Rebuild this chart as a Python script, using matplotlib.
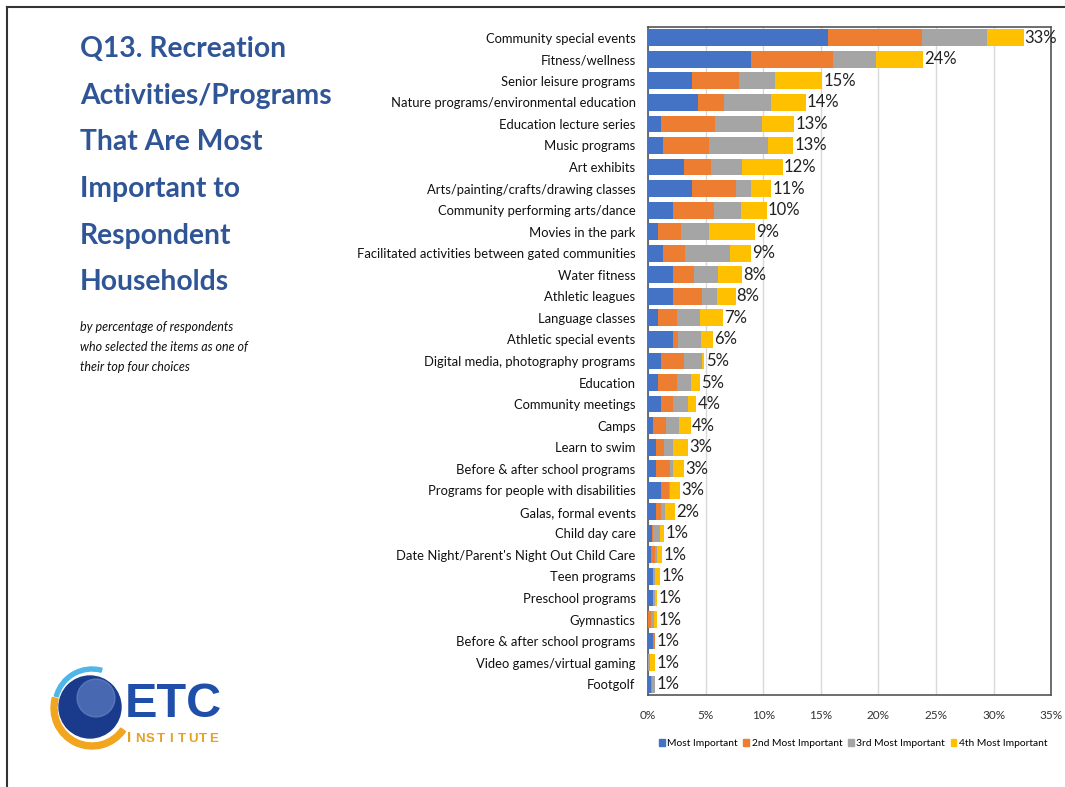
import matplotlib
matplotlib.use('Agg')
import matplotlib.pyplot as plt
import numpy as np
from matplotlib.patches import Circle, Wedge, Rectangle
from matplotlib.lines import Line2D

categories = [
    'Community special events', 'Fitness/wellness', 'Senior leisure programs',
    'Nature programs/environmental education', 'Education lecture series',
    'Music programs', 'Art exhibits', 'Arts/painting/crafts/drawing classes',
    'Community performing arts/dance', 'Movies in the park',
    'Facilitated activities between gated communities', 'Water fitness',
    'Athletic leagues', 'Language classes', 'Athletic special events',
    'Digital media, photography programs', 'Education', 'Community meetings',
    'Camps', 'Learn to swim', 'Before & after school programs',
    'Programs for people with disabilities', 'Galas, formal events',
    'Child day care', "Date Night/Parent's Night Out Child Care",
    'Teen programs', 'Preschool programs', 'Gymnastics',
    'Before & after school programs', 'Video games/virtual gaming', 'Footgolf',
]

most = [15.6, 8.9, 3.8, 4.3, 1.1, 1.3, 3.1, 3.8, 2.2, 0.9, 1.3, 2.2, 2.2, 0.9, 2.2,
        1.1, 0.9, 1.1, 0.4, 0.7, 0.7, 1.1, 0.7, 0.3, 0.26, 0.46, 0.46, 0.0, 0.46, 0.0, 0.26]
second = [8.2, 7.2, 4.1, 2.3, 4.7, 4.0, 2.4, 3.8, 3.5, 2.0, 1.9, 1.8, 2.5, 1.6, 0.4,
          2.0, 1.6, 1.1, 1.2, 0.7, 1.2, 0.7, 0.4, 0.15, 0.35, 0.0, 0.0, 0.26, 0.15, 0.0, 0.1]
third = [5.6, 3.7, 3.1, 4.1, 4.1, 5.1, 2.7, 1.3, 2.4, 2.4, 3.9, 2.1, 1.3, 2.0, 2.0,
         1.6, 1.2, 1.3, 1.1, 0.8, 0.3, 0.1, 0.4, 0.55, 0.2, 0.15, 0.1, 0.26, 0.0, 0.15, 0.25]
fourth = [3.2, 4.1, 4.1, 3.0, 2.8, 2.2, 3.5, 1.8, 2.2, 4.0, 1.8, 2.1, 1.6, 2.0, 1.0,
          0.2, 0.8, 0.7, 1.0, 1.3, 0.9, 0.9, 0.8, 0.4, 0.4, 0.43, 0.25, 0.3, 0.0, 0.45, 0.0]
totals = ['33%', '24%', '15%', '14%', '13%', '13%', '12%', '11%', '10%', '9%', '9%',
          '8%', '8%', '7%', '6%', '5%', '5%', '4%', '4%', '3%', '3%', '3%', '2%',
          '1%', '1%', '1%', '1%', '1%', '1%', '1%', '1%']

series_names = ['Most Important', '2nd Most Important', '3rd Most Important', '4th Most Important']
series_colors = ['#4472C4', '#ED7D31', '#A5A5A5', '#FFC000']
xticks = [0, 5, 10, 15, 20, 25, 30, 35]

label_font = ['Lato', 'DejaVu Sans']

fig = plt.figure(figsize=(10.65, 7.87), dpi=100)
ax = fig.add_axes([0.6085, 0.117, 0.3785, 0.8487])

y = np.arange(len(categories))
left = np.zeros(len(categories))
for vals, name, col in zip([most, second, third, fourth], series_names, series_colors):
    vals = np.array(vals)
    ax.barh(y, vals, left=left, height=0.78, color=col, label=name, zorder=3)
    left = left + vals

for yi, tot, txt in zip(y, left, totals):
    ax.text(tot + 0.1, yi, txt, va='center', ha='left', fontsize=12,
            family=label_font, color='#222222', zorder=4)

ax.set_ylim(len(categories) - 0.5, -0.5)
ax.set_xlim(0, 35)
ax.set_yticks(y)
ax.set_yticklabels(categories, fontsize=9.4, family=label_font, color='#111111')
ax.set_xticks(xticks)
ax.set_xticklabels([f'{t}%' for t in xticks], fontsize=8.5, family=label_font, color='#333333')
ax.tick_params(axis='both', length=0)
ax.tick_params(axis='y', pad=9)
ax.tick_params(axis='x', pad=11)
ax.grid(axis='x', color='#D9D9D9', linewidth=1, zorder=0)
for s in ax.spines.values():
    s.set_color('#555555')
    s.set_linewidth(1.2)

handles = [Rectangle((0, 0), 1, 1, color=c) for c in series_colors]
fig.legend(handles, series_names, loc='center', bbox_to_anchor=(0.801, 0.055), ncol=4,
           frameon=False, prop={'family': label_font, 'size': 7.4}, handlelength=0.55,
           handleheight=0.55, handletextpad=0.25, columnspacing=0.55)

# title block
title_lines = ['Q13. Recreation', 'Activities/Programs', 'That Are Most',
               'Important to', 'Respondent', 'Households']
for i, line in enumerate(title_lines):
    fig.text(0.075, 1 - (57 + i * 46.7) / 787, line, fontsize=20.3, fontweight='bold',
             color='#2F5597', family=['Lato', 'DejaVu Sans'], va='baseline')

sub_lines = ['by percentage of respondents', 'who selected the items as one of',
             'their top four choices']
for i, line in enumerate(sub_lines):
    fig.text(0.075, 1 - (331 + i * 20) / 787, line, fontsize=9, style='italic',
             color='#111111', family=label_font, va='baseline')

# page border
fig.add_artist(Line2D([7 / 1065, 7 / 1065], [0, 1 - 7 / 787], transform=fig.transFigure,
                      color='#333333', linewidth=1.5))
fig.add_artist(Line2D([7 / 1065, 1], [1 - 7 / 787, 1 - 7 / 787], transform=fig.transFigure,
                      color='#333333', linewidth=1.5))

# logo (pixel coords, origin at figure px (40, 640))
lax = fig.add_axes([40 / 1065, 1 - 760 / 787, 200 / 1065, 120 / 787])
lax.set_xlim(0, 200)
lax.set_ylim(120, 0)
lax.set_aspect('equal')
lax.axis('off')
lax.add_patch(Wedge((52, 68), 41, 35, 195, width=6, color='#F2A51E'))
lax.add_patch(Wedge((52, 66), 39, 195, 285, width=4, color='#4FB6E8'))
lax.add_patch(Circle((50, 67), 31, color='#1A3A8C'))
lax.add_patch(Circle((56, 58), 19, color='#6F8FD0', alpha=0.55))
lax.text(85, 77, 'ETC', fontsize=35, fontweight='bold', color='#1F4FA8',
         family=['Liberation Sans', 'DejaVu Sans'], va='baseline')
for i, ch in enumerate('INSTITUTE'):
    lax.text(89 + i * 10.6, 102, ch, fontsize=9.5 if i else 11, fontweight='bold',
             color='#E8A020', family=['Liberation Sans', 'DejaVu Sans'],
             va='baseline', ha='center')

fig.savefig('out.png', dpi=100)
